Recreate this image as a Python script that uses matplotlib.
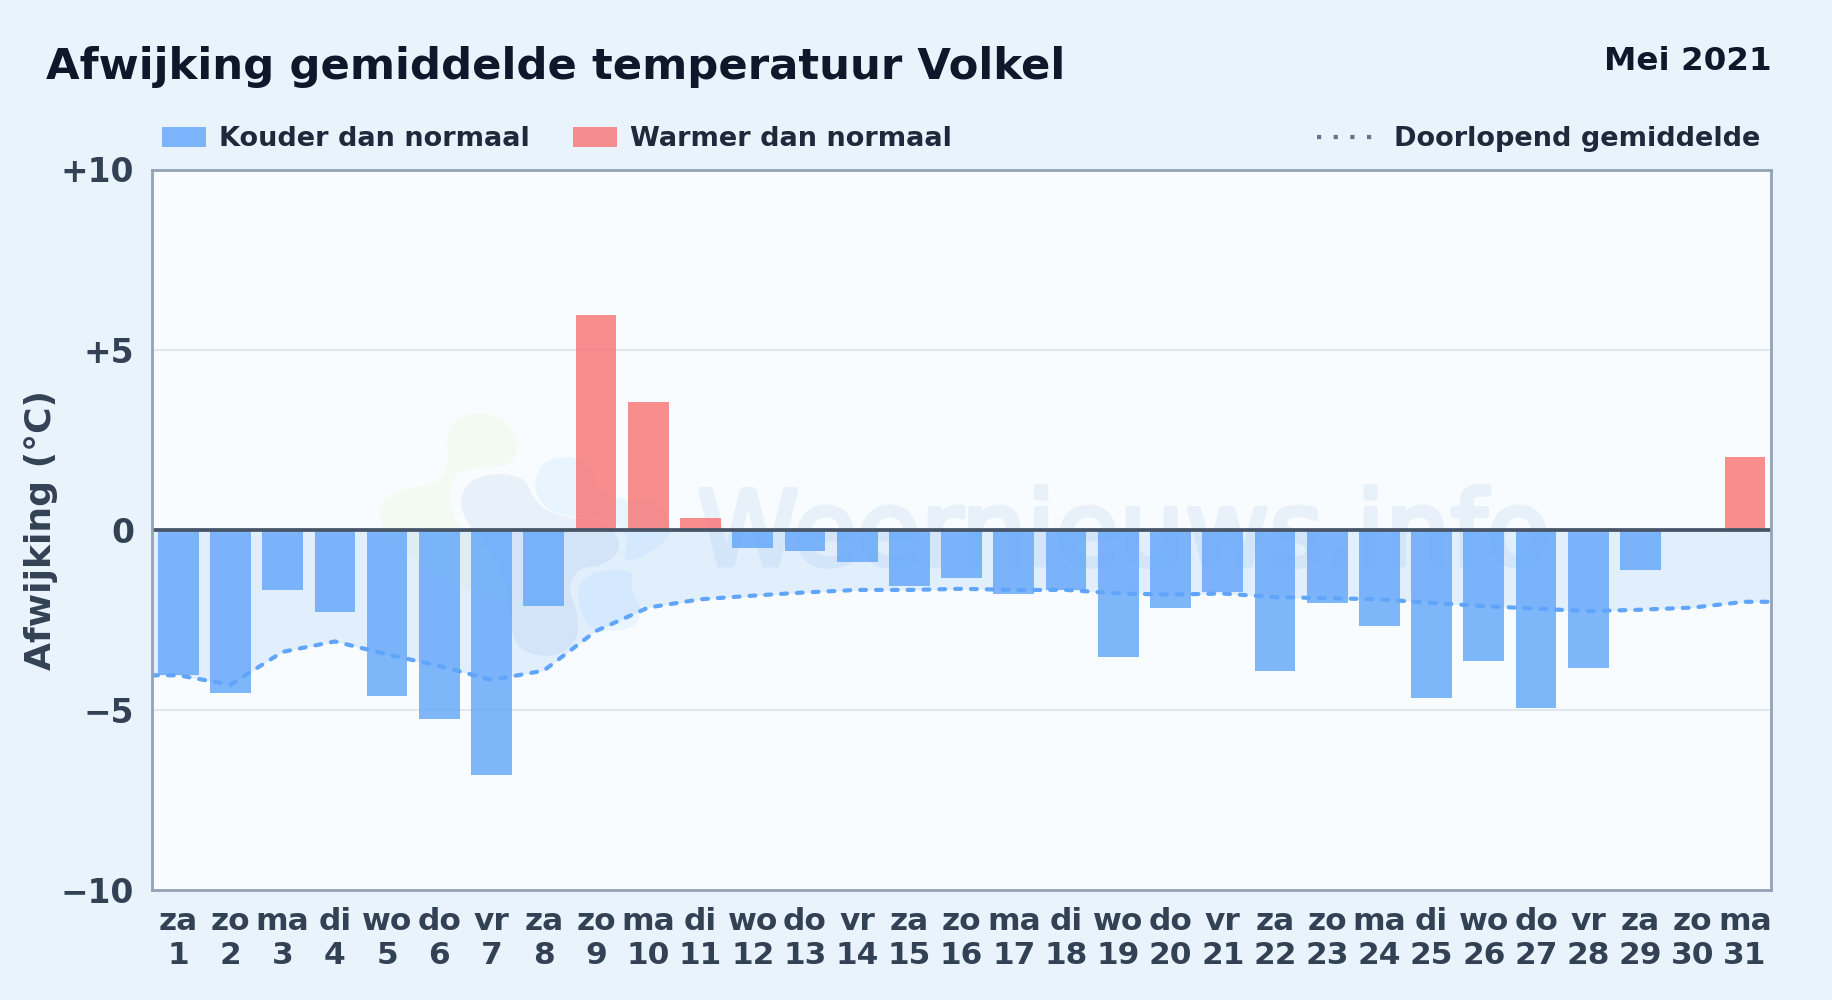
import numpy as np
import matplotlib
matplotlib.use("Agg")
import matplotlib.pyplot as plt
import matplotlib.patheffects as pe
from matplotlib.patches import Patch, PathPatch
from matplotlib.lines import Line2D
from matplotlib.path import Path
from matplotlib.transforms import Affine2D

plt.rcParams['font.family'] = 'DejaVu Sans'
plt.rcParams['font.weight'] = 'bold'

days = list(range(1, 32))
weekdays = ["za","zo","ma","di","wo","do","vr","za","zo","ma","di","wo","do","vr","za","zo",
            "ma","di","wo","do","vr","za","zo","ma","di","wo","do","vr","za","zo","ma"]
anomaly = [-4.04,-4.53,-1.66,-2.29,-4.61,-5.24,-6.80,-2.11,5.97,3.55,0.34,-0.50,-0.60,-0.89,-1.57,-1.35,
           -1.77,-1.67,-3.52,-2.16,-1.74,-3.91,-2.03,-2.68,-4.66,-3.65,-4.95,-3.85,-1.12,0.0,2.03]
running_mean = [-4.04,-4.30,-3.39,-3.10,-3.46,-3.78,-4.17,-3.91,-2.81,-2.16,-1.93,-1.83,-1.74,-1.67,-1.67,-1.64,
                -1.67,-1.67,-1.77,-1.80,-1.77,-1.87,-1.90,-1.93,-2.03,-2.12,-2.19,-2.26,-2.22,-2.16,-2.00]
y_ticks = [-10,-5,0,5,10]
y_tick_labels = ["\u221210","\u22125","0","+5","+10"]

W, H = 1832, 1000
BG, PLOT = "#e8f3fc", "#f8fcfe"
COLD, WARM = "#60a5fa", "#f87171"

fig = plt.figure(figsize=(W/100, H/100), dpi=100, facecolor=BG)
ax = fig.add_axes([152.1/W, 110/H, 1619/W, 720.5/H], facecolor=PLOT)
ax.set_xlim(0.5, 31.5)
ax.set_ylim(-10, 10)

# faint logo watermark behind the data (coordinates in reference pixels)
to_fig = Affine2D().scale(1/W, -1/H).translate(0, 1) + fig.transFigure

def blob(points, color):
    p = (np.array(points, float) / 3 + [360, 400])
    n = len(p)
    verts, codes = [p[0]], [Path.MOVETO]
    for i in range(n):
        p0, p1, p2, p3 = p[i-1], p[i], p[(i+1) % n], p[(i+2) % n]
        verts += [p1 + (p2-p0)/6, p2 - (p3-p1)/6, p2]
        codes += [Path.CURVE4]*3
    patch = PathPatch(Path(verts, codes), facecolor=color, edgecolor="none",
                      transform=to_fig, zorder=0.5)
    ax.add_patch(patch)
    patch.set_clip_path(ax.patch)

blob([(265,100),(300,55),(370,40),(440,70),(470,130),(455,185),(400,200),(330,205),(280,235),(270,300),
      (300,380),(400,430),(470,520),(470,590),(400,590),(300,560),(170,480),(90,420),(60,350),(75,300),
      (130,270),(230,245),(262,180)], "#f3faf1")
blob([(305,290),(340,240),(420,222),(490,240),(520,290),(560,330),(640,355),(720,365),(770,410),(770,460),
      (720,495),(660,510),(630,560),(650,640),(650,710),(600,760),(530,765),(470,730),(450,640),(440,560),
      (400,470),(340,390),(310,340)], "#e8f0f9")
blob([(530,230),(560,185),(620,172),(680,190),(720,260),(780,295),(880,305),(925,360),(925,410),(870,455),
      (820,480),(795,470),(800,420),(775,380),(720,355),(640,350),(570,330),(530,280)], "#e9f5fe")
blob([(655,570),(690,525),(760,510),(815,520),(815,570),(840,620),(830,670),(780,690),(710,690),(670,650)], "#eaf5ff")
ax.text(697, 565, "Weernieuws.info", transform=to_fig, fontsize=74.5, fontweight='normal', color="#e8f1f9",
        ha='left', va='baseline', zorder=0.6, clip_on=True,
        path_effects=[pe.withStroke(linewidth=3.5, foreground="#e8f1f9")])

# grid, running-mean area, bars
for v in y_ticks:
    if v not in (-10, 0, 10):
        ax.axhline(v, color="#e2e8f0", lw=1.5, zorder=1)

line_x = [ax.get_xlim()[0]] + days + [ax.get_xlim()[1]]
line_y = [running_mean[0]] + running_mean + [running_mean[-1]]
ax.fill_between(line_x, line_y, 0, color=COLD, alpha=0.15, lw=0, zorder=2)

bar_colors = [COLD if v < 0 else WARM for v in anomaly]
ax.bar(days, anomaly, width=0.78, color=bar_colors, alpha=0.8, lw=0, zorder=3)
ax.plot(line_x, line_y, color=COLD, lw=3.0, ls=(0, (1.4, 2.4)), dash_capstyle='round', zorder=4)
ax.axhline(0, color="#475569", lw=2.7, zorder=5)

for s in ax.spines.values():
    s.set_color("#94a3b8")
    s.set_linewidth(2)
    s.set_zorder(6)

ax.set_xticks(days, [f"{w}\n{d}" for w, d in zip(weekdays, days)])
ax.set_yticks(y_ticks, y_tick_labels)
ax.tick_params(axis='both', length=0, labelcolor="#334155")
ax.tick_params(axis='x', pad=12.5, labelsize=22.5)
ax.tick_params(axis='y', pad=13, labelsize=23.7)
for t in ax.get_xticklabels() + ax.get_yticklabels():
    t.set_fontweight('bold')

fig.text(41/W, 1-530/H, "Afwijking (\u00b0C)", rotation=90, ha='center', va='center',
         fontsize=26, fontweight='bold', color="#334155")
fig.text(46/W, 1-79/H, "Afwijking gemiddelde temperatuur Volkel", ha='left', va='baseline',
         fontsize=31.2, fontweight='bold', color="#0f172a")
fig.text(1771.5/W, 1-70/H, "Mei 2021", ha='right', va='baseline',
         fontsize=23.4, fontweight='bold', color="#0f172a")

# legends
leg_kw = dict(frameon=False, borderpad=0, borderaxespad=0, prop={'size': 19.55, 'weight': 'bold'},
              labelcolor="#1e293b", bbox_transform=to_fig)
leg1 = ax.legend(handles=[Patch(facecolor=COLD, alpha=0.8, lw=0, label="Kouder dan normaal"),
                          Patch(facecolor=WARM, alpha=0.8, lw=0, label="Warmer dan normaal")],
                 loc='lower left', bbox_to_anchor=(162, 152.5), ncol=2, handlelength=1.62, handleheight=0.72,
                 handletextpad=0.47, columnspacing=1.6, **leg_kw)
ax.add_artist(leg1)
ax.legend(handles=[Line2D([], [], color="#64748b", lw=3, ls=(0, (1.0, 3.0)), dash_capstyle='butt',
                          label="Doorlopend gemiddelde")],
          loc='lower right', bbox_to_anchor=(1760, 152.5), handlelength=2.03, handletextpad=0.8, **leg_kw)

fig.savefig("out.png", dpi=100, facecolor=BG)
